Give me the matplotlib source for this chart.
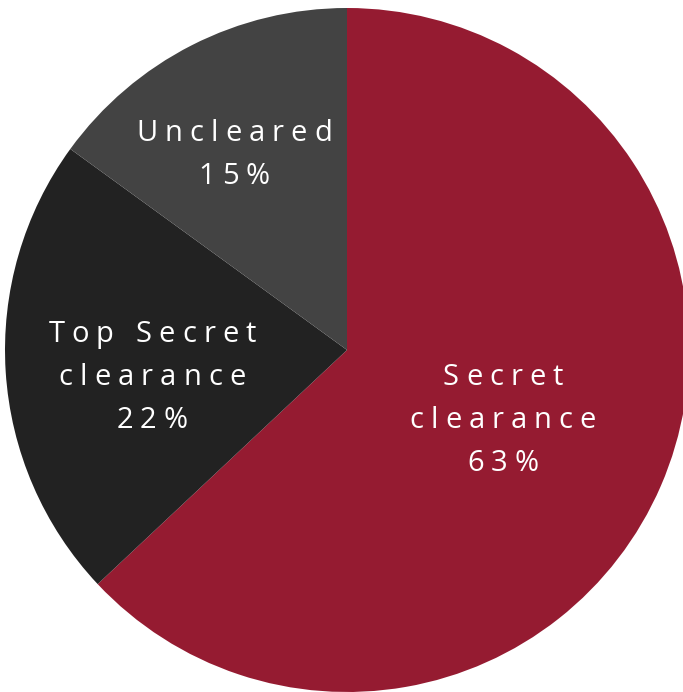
import matplotlib
matplotlib.use("Agg")
import matplotlib.pyplot as plt

labels = ["Secret\nclearance", "Top Secret\nclearance", "Uncleared"]
shares = [63, 22, 15]
colors = ["#951B31", "#222222", "#434343"]
label_pos = [(0.456, -0.205), (-0.570, -0.079), (-0.330, 0.570)]

plt.rcParams['font.family'] = ['Open Sans', 'DejaVu Sans']

fig = plt.figure(figsize=(6.83, 6.92), dpi=100)
ax = fig.add_axes([5 / 683, 0, 684 / 683, 684 / 692])
ax.pie(shares, colors=colors, startangle=90, counterclock=False,
       radius=1, wedgeprops=dict(linewidth=0))
ax.set_xlim(-1, 1)
ax.set_ylim(-1, 1)
ax.set_aspect('equal')
ax.axis('off')

renderer = fig.canvas.get_renderer()
fsize = 21
track = 7.0  # extra px between letters
line_h = 43 / 342  # in data units


def spaced_line(x, y, s):
    # measure each char and lay them out with extra tracking
    widths = []
    for ch in s:
        t = ax.text(0, 0, ch if ch != ' ' else 'n', fontsize=fsize)
        bb = t.get_window_extent(renderer)
        widths.append(bb.width * (0.45 if ch == ' ' else 1.0))
        t.remove()
    total = sum(widths) + track * (len(s) - 1)
    px_per_unit = 342
    cur = x - total / 2 / px_per_unit
    for ch, w in zip(s, widths):
        ax.text(cur + w / 2 / px_per_unit, y, ch, fontsize=fsize, color='white',
                ha='center', va='center')
        cur += (w + track) / px_per_unit


for lab, share, (x, y) in zip(labels, shares, label_pos):
    lines = lab.split("\n") + [f"{share}%"]
    n = len(lines)
    for i, ln in enumerate(lines):
        yy = y + (n - 1) / 2 * line_h - i * line_h
        spaced_line(x, yy, ln)

fig.savefig("out.png", dpi=100)
